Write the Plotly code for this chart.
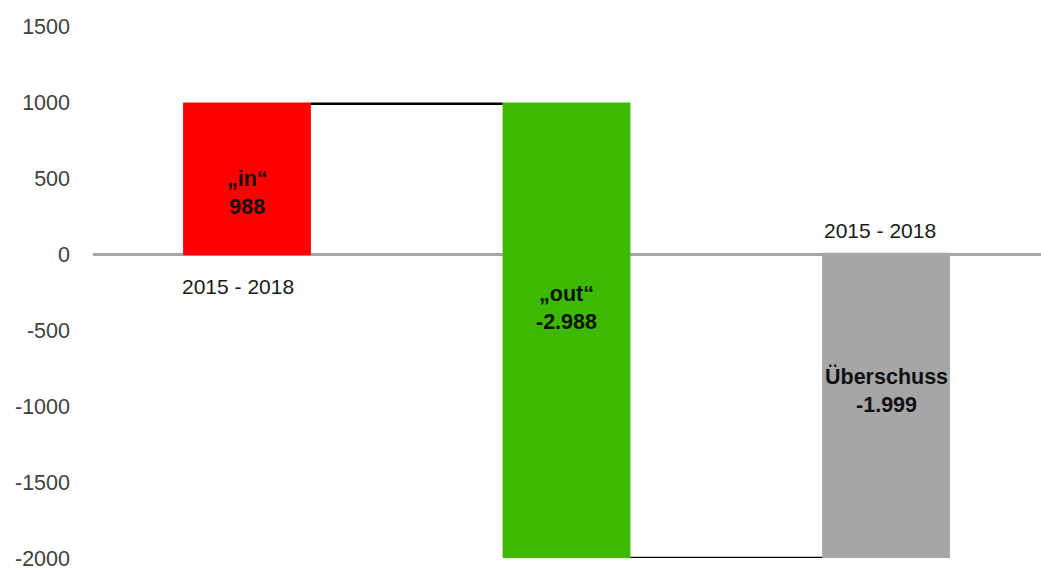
import plotly.graph_objects as go

categories = ["in", "out", "surplus"]
values = [988, -2988, -1999]
measures = ["relative", "relative", "absolute"]
bar_labels = ["<b>„in“<br>988</b>", "<b>„out“<br>-2.988</b>", "<b>Überschuss<br>-1.999</b>"]
period_label = "2015 - 2018"
tick_vals = [-2000, -1500, -1000, -500, 0, 500, 1000, 1500]
tick_text = ["-2000", "-1500", "-1000", "-500", "0", "500", "1000", "1500"]

FONT = "Liberation Sans, Arial, sans-serif"

fig = go.Figure()
fig.add_trace(go.Waterfall(
    x=categories,
    y=values,
    measure=measures,
    increasing=dict(marker=dict(color="#ff0000")),
    decreasing=dict(marker=dict(color="#3cb900")),
    totals=dict(marker=dict(color="#a6a6a6")),
    connector=dict(line=dict(color="#000000", width=2.5), mode="between"),
    textinfo="none",
    hoverinfo="skip",
    showlegend=False,
))

# label positions derived from the data (bar midpoints)
start = [0, values[0], 0]
end = [values[0], values[0] + values[1], values[2]]
shifts = [-14, 23, 15]
for i, cat in enumerate(categories):
    mid = (start[i] + end[i]) / 2
    fig.add_annotation(x=cat, y=mid, text=bar_labels[i], showarrow=False,
                       yshift=shifts[i],
                       font=dict(family=FONT, size=21.5, color="#111111"))

fig.add_annotation(x=categories[0], y=0, text=period_label, showarrow=False,
                   yanchor="top", yshift=-19, xshift=-9,
                   font=dict(family=FONT, size=21, color="#1a1a1a"))
fig.add_annotation(x=categories[2], y=0, text=period_label, showarrow=False,
                   yanchor="bottom", yshift=10, xshift=-6,
                   font=dict(family=FONT, size=21, color="#1a1a1a"))

fig.update_layout(
    width=1041, height=570,
    margin=dict(l=93, r=0, t=26, b=12),
    paper_bgcolor="white", plot_bgcolor="white",
    waterfallgap=0.6,
    font=dict(family=FONT, size=21, color="#404040"),
    xaxis=dict(showticklabels=False, showgrid=False, zeroline=False,
               showline=False, range=[-0.482, 2.485]),
    yaxis=dict(range=[-2000, 1500], tickvals=tick_vals, ticktext=tick_text,
               showgrid=False, ticklabeloverflow="allow",
               zeroline=True, zerolinecolor="#a6a6a6", zerolinewidth=3,
               showline=False, ticks="", ticklabelstandoff=22,
               tickfont=dict(family=FONT, size=21.5, color="#404040")),
)

fig.write_html("out.html")
